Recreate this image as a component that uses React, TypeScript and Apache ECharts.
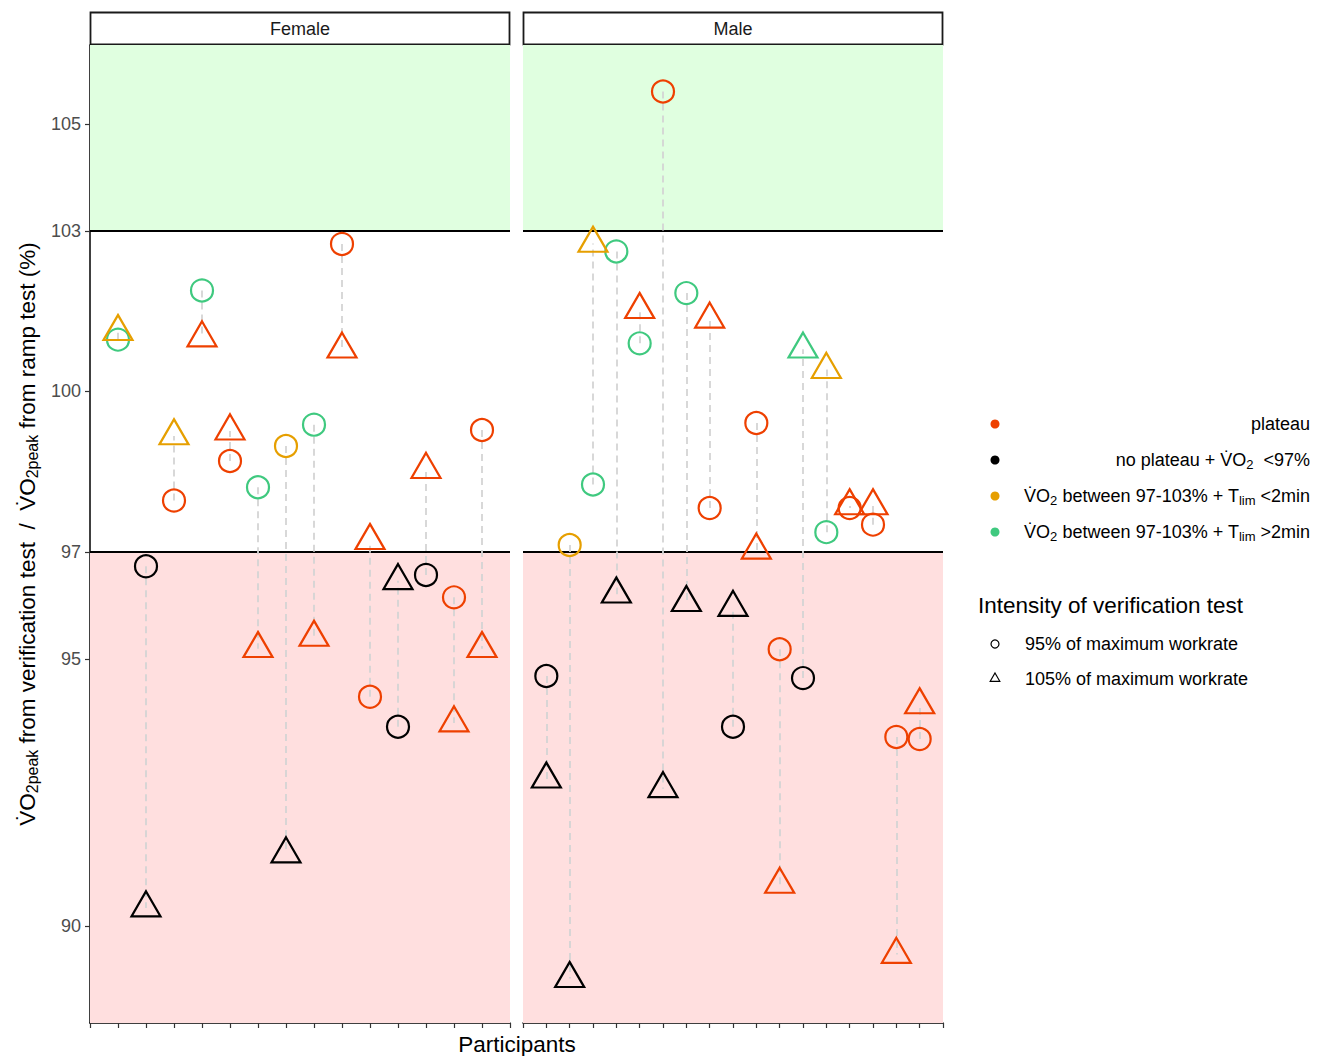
import React, { useEffect, useRef } from 'react';
import * as echarts from 'echarts';

const FONT = "'Liberation Sans', Arial, Helvetica, sans-serif";

// Colour groups: P = plateau, N = no plateau + VO2 <97%, S = VO2 97-103% + Tlim <2min, L = VO2 97-103% + Tlim >2min
const groupColors: Record<string, string> = {
  P: '#EE4000',
  N: '#000000',
  S: '#E69F00',
  L: '#3FC97F',
};

const yTicks = [90, 95, 97, 100, 103, 105];
const Y_MIN = 88.19;
const Y_MAX = 106.48;
const lowerLimit = 97;
const upperLimit = 103;

// Female panel
const femaleParticipants = [1, 2, 3, 4, 5, 6, 7, 8, 9, 10, 11, 12, 13, 14];
const femaleCircle = [100.97, 96.73, 97.96, 101.89, 98.7, 98.21, 98.98, 99.38, 102.76, 94.29, 93.73, 96.57, 96.15, 99.28];
const femaleCircleGroup = ['L', 'N', 'P', 'L', 'P', 'L', 'S', 'L', 'P', 'P', 'N', 'N', 'P', 'P'];
const femaleTriangle = [101.12, 90.34, 99.17, 101.0, 99.26, 95.19, 91.35, 95.4, 100.79, 97.21, 96.46, 98.54, 93.8, 95.19];
const femaleTriangleGroup = ['S', 'N', 'S', 'P', 'P', 'P', 'N', 'P', 'P', 'P', 'N', 'P', 'P', 'P'];

// Male panel
const maleParticipants = [1, 2, 3, 4, 5, 6, 7, 8, 9, 10, 11, 12, 13, 14, 15, 16, 17];
const maleCircle = [94.68, 97.13, 98.26, 102.62, 100.9, 105.61, 101.84, 97.82, 93.73, 99.41, 95.18, 94.64, 97.37, 97.82, 97.51, 93.54, 93.5];
const maleCircleGroup = ['N', 'S', 'L', 'L', 'L', 'P', 'L', 'P', 'N', 'P', 'P', 'N', 'L', 'P', 'P', 'P', 'P'];
const maleTriangle = [92.75, 89.02, 102.77, 96.21, 101.53, 92.57, 96.05, 101.35, 95.96, 97.03, 90.78, 100.79, 100.41, 97.86, 97.86, 89.47, 94.14];
const maleTriangleGroup = ['N', 'N', 'S', 'N', 'P', 'N', 'N', 'P', 'N', 'P', 'P', 'L', 'S', 'P', 'P', 'P', 'P'];

const panelNames = ['Female', 'Male'];
const colorLegendLabels = [
  'plateau',
  'no plateau + V\u0307O{sub|2}  <97%',
  'V\u0307O{sub|2} between 97-103% + T{sub|lim} <2min',
  'V\u0307O{sub|2} between 97-103% + T{sub|lim} >2min',
];
const colorLegendKeys = ['P', 'N', 'S', 'L'];
const shapeLegendTitle = 'Intensity of verification test';
const shapeLegendLabels = ['95% of maximum workrate', '105% of maximum workrate'];

const CIRCLE_SIZE = 22;
const TRI_W = 29;
const TRI_H = 25;

function pointData(xs: number[], ys: number[], groups: string[]) {
  return xs.map((x, i) => ({
    value: [x, ys[i]],
    itemStyle: { borderColor: groupColors[groups[i]] },
  }));
}

function segData(xs: number[], a: number[], b: number[]) {
  return xs.map((x, i) => ({ coords: [[x, a[i]], [x, b[i]]] }));
}

function buildOption() {
  const panels = [
    { xs: femaleParticipants, c: femaleCircle, cg: femaleCircleGroup, t: femaleTriangle, tg: femaleTriangleGroup },
    { xs: maleParticipants, c: maleCircle, cg: maleCircleGroup, t: maleTriangle, tg: maleTriangleGroup },
  ];

  const grids = [
    { left: 90, top: 45, width: 420, height: 978 },
    { left: 523, top: 45, width: 420, height: 978 },
  ];

  const xAxes = panels.map((p, i) => ({
    type: 'value',
    gridIndex: i,
    min: 0,
    max: p.xs.length + 1,
    interval: 1,
    axisLine: { show: true, lineStyle: { color: '#000', width: 1.5 } },
    axisTick: { show: true, length: 5, lineStyle: { color: '#333', width: 1.2 } },
    axisLabel: { show: false },
    splitLine: { show: false },
  }));

  const yAxes = panels.map((_, i) => ({
    type: 'value',
    gridIndex: i,
    min: Y_MIN,
    max: Y_MAX,
    axisLine: { show: i === 0, lineStyle: { color: '#000', width: 1.5 } },
    axisTick: { show: i === 0, length: 5, customValues: yTicks, lineStyle: { color: '#333', width: 1.2 } },
    axisLabel: {
      show: i === 0,
      customValues: yTicks,
      color: '#4D4D4D',
      fontSize: 18,
      fontFamily: FONT,
      margin: 9,
    },
    splitLine: { show: false },
  }));

  const series: any[] = [];
  panels.forEach((p, i) => {
    series.push({
      type: 'lines',
      coordinateSystem: 'cartesian2d',
      xAxisIndex: i,
      yAxisIndex: i,
      silent: true,
      z: 4,
      polyline: false,
      lineStyle: { color: '#D4D4D4', width: 1.8, type: [7, 5], opacity: 1 },
      data: segData(p.xs, p.c, p.t),
    });
    series.push({
      type: 'scatter',
      xAxisIndex: i,
      yAxisIndex: i,
      z: 10,
      symbol: 'circle',
      symbolSize: CIRCLE_SIZE,
      itemStyle: { color: 'rgba(0,0,0,0)', borderWidth: 2.2, opacity: 1 },
      emphasis: { disabled: true },
      data: pointData(p.xs, p.c, p.cg),
      markArea: {
        silent: true,
        z: 1,
        data: [
          [{ yAxis: upperLimit, itemStyle: { color: '#E0FFE0', opacity: 1 } }, { yAxis: Y_MAX }],
          [{ yAxis: Y_MIN, itemStyle: { color: '#FFDFDF', opacity: 1 } }, { yAxis: lowerLimit }],
        ],
      },
      markLine: {
        silent: true,
        z: 3,
        symbol: 'none',
        label: { show: false },
        lineStyle: { color: '#000', width: 2, type: 'solid', opacity: 1 },
        emphasis: { disabled: true },
        data: [{ yAxis: lowerLimit }, { yAxis: upperLimit }],
      },
    });
    series.push({
      type: 'scatter',
      xAxisIndex: i,
      yAxisIndex: i,
      z: 11,
      symbol: 'triangle',
      symbolSize: [TRI_W, TRI_H],
      symbolOffset: [0, -TRI_H / 6],
      itemStyle: { color: 'rgba(0,0,0,0)', borderWidth: 2.2, opacity: 1 },
      emphasis: { disabled: true },
      data: pointData(p.xs, p.t, p.tg),
    });
  });

  const graphics: any[] = [];
  // strips
  grids.forEach((g, i) => {
    graphics.push({
      type: 'rect',
      shape: { x: g.left + 0.5, y: 12.5, width: g.width - 1, height: 32 },
      style: { fill: '#fff', stroke: '#1A1A1A', lineWidth: 1.8 },
      silent: true,
    });
    graphics.push({
      type: 'text',
      x: g.left + g.width / 2,
      y: 29,
      style: {
        text: panelNames[i],
        fontSize: 18,
        fontFamily: FONT,
        fill: '#1A1A1A',
        align: 'center',
        verticalAlign: 'middle',
      },
      silent: true,
    });
  });

  // axis titles
  graphics.push({
    type: 'text',
    x: 517,
    y: 1044,
    style: {
      text: 'Participants',
      fontSize: 22.5,
      fontFamily: FONT,
      fill: '#000',
      align: 'center',
      verticalAlign: 'middle',
    },
    silent: true,
  });
  graphics.push({
    type: 'text',
    x: 27,
    y: 534,
    rotation: Math.PI / 2,
    style: {
      text: 'V\u0307O{sub|2peak} from verification test  /  V\u0307O{sub|2peak} from ramp test (%)',
      fontSize: 22.5,
      fontFamily: FONT,
      fill: '#000',
      align: 'center',
      verticalAlign: 'middle',
      lineHeight: 26,
      rich: {
        sub: { fontSize: 16, fontFamily: FONT, fill: '#000', lineHeight: 15, verticalAlign: 'bottom' },
      },
    },
    silent: true,
  });

  // colour legend
  colorLegendLabels.forEach((lab, i) => {
    const y = 424 + i * 36;
    graphics.push({
      type: 'circle',
      shape: { cx: 995, cy: y, r: 4.5 },
      style: { fill: groupColors[colorLegendKeys[i]] },
      silent: true,
    });
    graphics.push({
      type: 'text',
      x: 1310,
      y: y,
      style: {
        text: lab,
        fontSize: 18,
        fontFamily: FONT,
        fill: '#000',
        align: 'right',
        verticalAlign: 'middle',
        lineHeight: 22,
        rich: {
          sub: { fontSize: 13, fontFamily: FONT, fill: '#000', lineHeight: 12, verticalAlign: 'bottom' },
        },
      },
      silent: true,
    });
  });

  // shape legend
  graphics.push({
    type: 'text',
    x: 978,
    y: 605,
    style: {
      text: shapeLegendTitle,
      fontSize: 22.5,
      fontFamily: FONT,
      fill: '#000',
      align: 'left',
      verticalAlign: 'middle',
    },
    silent: true,
  });
  graphics.push({
    type: 'circle',
    shape: { cx: 995, cy: 644, r: 4 },
    style: { fill: 'none', stroke: '#000', lineWidth: 1.2 },
    silent: true,
  });
  graphics.push({
    type: 'polygon',
    shape: { points: [[995, 673], [999.8, 681.3], [990.2, 681.3]] },
    style: { fill: 'none', stroke: '#000', lineWidth: 1.2 },
    silent: true,
  });
  shapeLegendLabels.forEach((lab, i) => {
    graphics.push({
      type: 'text',
      x: 1025,
      y: 644 + i * 35,
      style: {
        text: lab,
        fontSize: 18,
        fontFamily: FONT,
        fill: '#000',
        align: 'left',
        verticalAlign: 'middle',
      },
      silent: true,
    });
  });

  return {
    animation: false,
    backgroundColor: '#ffffff',
    textStyle: { fontFamily: FONT },
    grid: grids,
    xAxis: xAxes,
    yAxis: yAxes,
    series,
    graphic: graphics,
  };
}

export default function App() {
  const ref = useRef<HTMLDivElement>(null);
  useEffect(() => {
    document.body.style.margin = '0';
    if (!ref.current) return;
    const chart = echarts.init(ref.current, undefined, { renderer: 'svg' });
    chart.setOption(buildOption() as any);
    return () => chart.dispose();
  }, []);
  return <div ref={ref} style={{ width: 1324, height: 1056 }} />;
}
